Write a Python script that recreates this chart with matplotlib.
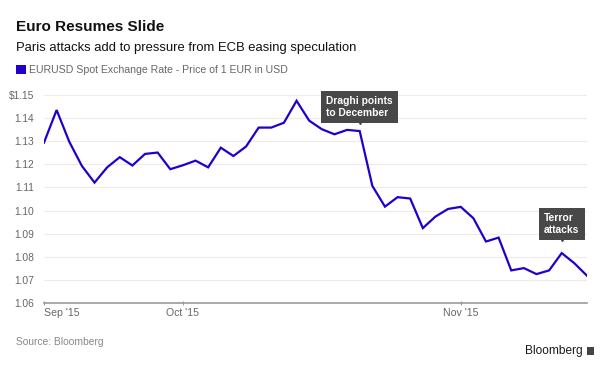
import matplotlib
matplotlib.use("Agg")
import matplotlib.pyplot as plt
from matplotlib.patches import Rectangle
from matplotlib.transforms import ScaledTranslation

# EURUSD daily close, business days 16 Sep - 16 Nov 2015
rate = [1.1294, 1.1435, 1.1298, 1.1193, 1.1121, 1.1187, 1.1231, 1.1195, 1.1245, 1.1251,
        1.1179, 1.1196, 1.1216, 1.1187, 1.1272, 1.1236, 1.1277, 1.1359, 1.1359, 1.1380,
        1.1475, 1.1389, 1.1352, 1.1330, 1.1349, 1.1344, 1.1107, 1.1017, 1.1058, 1.1052,
        1.0924, 1.0974, 1.1007, 1.1016, 1.0967, 1.0866, 1.0883, 1.0741, 1.0751, 1.0725,
        1.0741, 1.0816, 1.0772, 1.0718]
tick_idx = [0, 11, 33]
tick_labels = ["Sep '15", "Oct '15", "Nov '15"]
yticks = [1.06, 1.07, 1.08, 1.09, 1.10, 1.11, 1.12, 1.13, 1.14, 1.15]
notes = [(25, "Draghi points\nto December", 7), (41, "Terror\nattacks", 12)]

LINE = "#2200cc"
GREY = "#666666"
SANS = ["Liberation Sans", "DejaVu Sans"]

fig = plt.figure(figsize=(6.1, 3.7), dpi=100)
ax = fig.add_axes([44 / 610, 1 - 303 / 370, 543 / 610, 208 / 370])

x = list(range(len(rate)))
ax.plot(x, rate, color=LINE, lw=1.6, solid_joinstyle="miter", zorder=3)
ax.set_xlim(0, len(rate) - 1)
ax.set_ylim(1.06, 1.15)

ax.set_yticks(yticks)
ax.set_yticklabels([f"${v:.2f}" if v == yticks[-1] else f"{v:.2f}" for v in yticks],
                   fontsize=7.4, color=GREY, family=SANS)
ax.set_xticks(tick_idx)
ax.set_xticklabels(tick_labels, fontsize=7.6, color=GREY, family=SANS)
ax.tick_params(axis="y", length=0, pad=7)
ax.tick_params(axis="x", length=3, direction="inout", color="#999999", pad=2)
for lbl in ax.get_xticklabels():
    lbl.set_horizontalalignment("left" if lbl.get_text() == "Sep '15" else "center")

for v in yticks[1:]:
    ax.axhline(v, color="#ececec", lw=0.8, zorder=1)
for s in ["top", "right", "left"]:
    ax.spines[s].set_visible(False)
ax.spines["bottom"].set_color("#999999")
ax.spines["bottom"].set_linewidth(1.2)

for idx, text, gap in notes:
    ax.annotate(text, xy=(idx, rate[idx]), xytext=(0, gap + 6), textcoords="offset pixels",
                ha="center", va="bottom", multialignment="left", color="white",
                fontsize=7.4, fontweight="bold", family=SANS, linespacing=1.3, zorder=5,
                bbox=dict(boxstyle="square,pad=0.5", fc="#484848", ec="none"))
    ax.plot([idx], [rate[idx]], marker="v", ms=3, color="#484848", zorder=4,
            transform=ax.transData + ScaledTranslation(0, (gap + 2) / 100, fig.dpi_scale_trans))

fig.text(16 / 610, 1 - 27 / 370, "Euro Resumes Slide", fontsize=11, fontweight="bold",
         family=SANS, va="center", color="#111111")
fig.text(16 / 610, 1 - 48 / 370, "Paris attacks add to pressure from ECB easing speculation",
         fontsize=9.4, family=SANS, va="center", color="#111111")
fig.patches.append(Rectangle((16 / 610, 1 - 74 / 370), 10 / 610, 9 / 370,
                             transform=fig.transFigure, fc=LINE, ec="none"))
fig.text(29 / 610, 1 - 70 / 370, "EURUSD Spot Exchange Rate - Price of 1 EUR in USD",
         fontsize=7.6, family=SANS, va="center", color=GREY)
fig.text(16 / 610, 1 - 342 / 370, "Source: Bloomberg", fontsize=7.4, family=SANS,
         va="center", color="#888888")
fig.text(583 / 610, 1 - 351 / 370, "Bloomberg", fontsize=8.6,
         family=SANS, ha="right", va="center", color="#1a1a1a")
fig.patches.append(Rectangle((587 / 610, 1 - 355 / 370), 7 / 610, 8 / 370,
                             transform=fig.transFigure, fc="#444444", ec="none"))

fig.savefig("out.png", dpi=100)
